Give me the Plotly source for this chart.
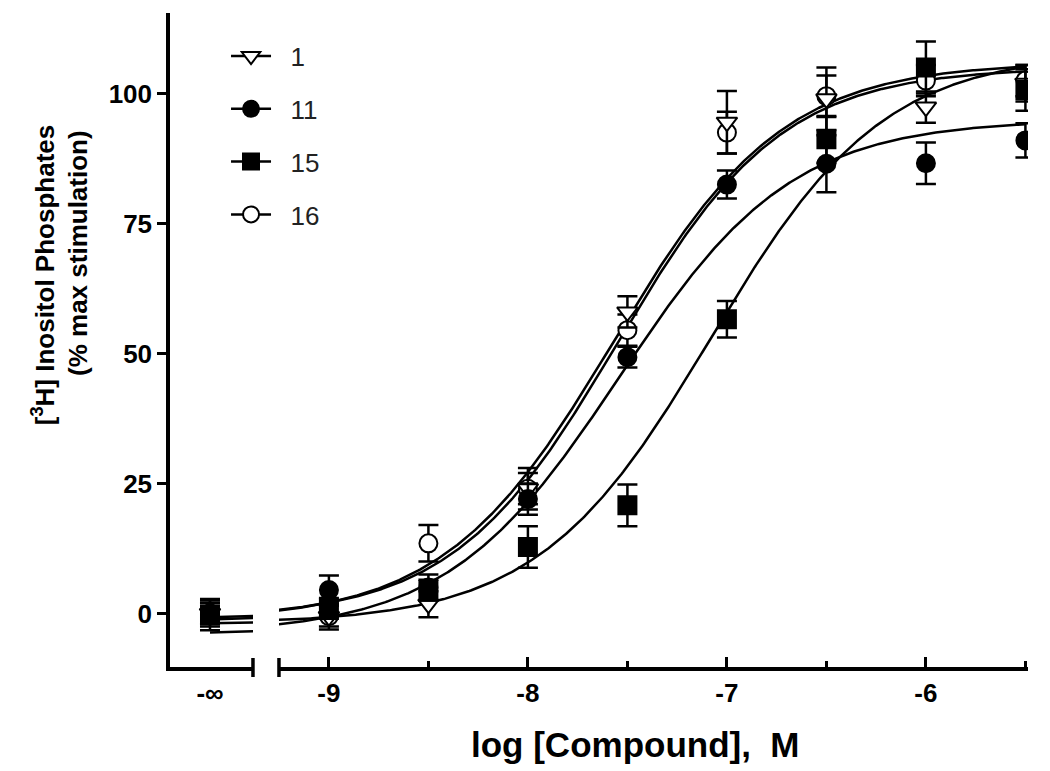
import numpy as np
import plotly.graph_objects as go

# ---------------- data ----------------
compounds = ["1", "11", "15", "16"]
basal_pos = -10.0                      # plotted position of the "-∞" (no compound) column
log_conc = [-9.0, -8.5, -8.0, -7.5, -7.0, -6.5, -6.0, -5.5]

# first value of each list = basal (-∞), then one per log_conc
resp_1 = [0.0, -0.6, 1.8, 24.0, 58.0, 94.5, 99.0, 97.4, 102.0]
err_1 = [2.5, 2.5, 2.5, 4.0, 3.0, 6.0, 6.0, 3.0, 3.5]
resp_11 = [0.0, 4.5, 5.0, 22.0, 49.3, 82.5, 86.5, 86.6, 91.0]
err_11 = [2.0, 2.8, 2.5, 3.0, 2.0, 2.7, 5.5, 4.0, 3.3]
resp_15 = [-0.2, 1.0, 4.5, 12.8, 20.8, 56.6, 91.2, 105.0, 100.7]
err_15 = [3.0, 2.0, 2.0, 4.0, 4.0, 3.5, 4.5, 5.0, 4.0]
resp_16 = [0.0, -0.5, 13.5, 24.0, 54.5, 92.5, 99.5, 102.5, 102.5]
err_16 = [2.0, 2.0, 3.5, 3.0, 3.0, 4.0, 4.0, 3.0, 3.0]

# sigmoidal dose-response fit parameters (bottom, top, logEC50, Hill slope)
fit_bottom = [-1.0, -4.0, -2.0, -1.5]
fit_top = [105.0, 95.0, 108.0, 106.0]
fit_logec50 = [-7.55, -7.54, -7.08, -7.57]
fit_hill = [1.05, 1.0, 1.0, 1.02]

x_ticks = [-9, -8, -7, -6]
x_minor = [-8.5, -7.5, -6.5, -5.5]
y_ticks = [0, 25, 50, 75, 100]

responses = [resp_1, resp_11, resp_15, resp_16]
errors = [err_1, err_11, err_15, err_16]
symbols = ["triangle-down", "circle", "square", "circle"]
fills = ["white", "black", "black", "white"]

FONT = "Liberation Sans, Arial, sans-serif"
NBSP = "\u00a0"

fig = go.Figure()

# fitted curves (drawn on both axis segments)
xc = np.linspace(basal_pos, log_conc[-1], 600)
for i in range(4):
    yc = fit_bottom[i] + (fit_top[i] - fit_bottom[i]) / (
        1 + 10 ** ((fit_logec50[i] - xc) * fit_hill[i]))
    for xa in ["x", "x2"]:
        fig.add_trace(go.Scatter(x=xc, y=yc, mode="lines", xaxis=xa, yaxis="y",
                                 line=dict(color="black", width=2.5),
                                 showlegend=False, hoverinfo="skip"))

# data points with error bars
for i in [3, 0, 1, 2]:
    r, e = responses[i], errors[i]
    mk = dict(symbol=symbols[i], size=18, color=fills[i],
              line=dict(color="black", width=2))
    eb = dict(color="black", thickness=2.5, width=10)
    fig.add_trace(go.Scatter(x=[basal_pos], y=[r[0]], xaxis="x", yaxis="y",
                             mode="markers", marker=mk,
                             error_y=dict(type="data", array=[e[0]], **eb),
                             showlegend=False))
    fig.add_trace(go.Scatter(x=log_conc, y=r[1:], xaxis="x2", yaxis="y",
                             mode="markers", marker=mk,
                             error_y=dict(type="data", array=e[1:], **eb),
                             showlegend=False))

# legend entries
for i in range(4):
    fig.add_trace(go.Scatter(x=[None], y=[None], mode="lines+markers", xaxis="x2",
                             name=NBSP * 2 + compounds[i], legendgroup=compounds[i],
                             line=dict(color="black", width=2.5),
                             marker=dict(symbol=symbols[i], size=17, color=fills[i],
                                         line=dict(color="black", width=2))))

axis_common = dict(showline=True, linecolor="black", linewidth=3.5, showgrid=False,
                   zeroline=False, tickfont=dict(family=FONT, size=26, color="black",
                                                 weight="bold"))

fig.update_layout(
    width=1050, height=771,
    margin=dict(l=162, r=30, t=5, b=112),
    paper_bgcolor="white", plot_bgcolor="white",
    showlegend=True,
    legend=dict(x=0.0653, y=0.970, xanchor="left", yanchor="top",
                font=dict(family=FONT, size=26, color="#222"),
                tracegroupgap=16, itemwidth=40, bgcolor="rgba(0,0,0,0)"),
    xaxis=dict(domain=[0, 0.0967], range=[-10.201, -9.784], anchor="y",
               tickvals=[basal_pos], ticktext=["-∞"], ticks="", **axis_common),
    xaxis2=dict(domain=[0.127, 1], range=[-9.251, -5.487], anchor="y",
                tickvals=x_ticks, ticktext=[str(v) for v in x_ticks],
                ticks="inside", ticklen=10, tickwidth=3, tickcolor="black",
                minor=dict(tickvals=x_minor, ticks="inside", ticklen=6,
                           tickwidth=3, tickcolor="black"),
                **axis_common),
    yaxis=dict(domain=[0, 1], range=[-10.29, 115.5], anchor="x",
               tickvals=y_ticks, ticks="outside", ticklen=9, tickwidth=3,
               tickcolor="black", **axis_common),
)

# axis break end bars
for ref, xpos in [("x domain", 1), ("x2 domain", 0)]:
    fig.add_shape(type="line", xref=ref, yref="paper", x0=xpos, x1=xpos,
                  y0=-0.0153, y1=0.0138, line=dict(color="black", width=3.5))

# axis titles
fig.add_annotation(text="log [Compound],  M", xref="paper", yref="paper",
                   x=0.543, y=-0.119, showarrow=False, xanchor="center", yanchor="middle",
                   font=dict(family=FONT, size=35, color="black", weight="bold"))
fig.add_annotation(text="[<sup>3</sup>H] Inositol Phosphates", xref="paper", yref="paper",
                   x=-0.148, y=0.599, showarrow=False, textangle=-90,
                   xanchor="center", yanchor="middle",
                   font=dict(family=FONT, size=26, color="black", weight="bold"))
fig.add_annotation(text="(% max stimulation)", xref="paper", yref="paper",
                   x=-0.1073, y=0.633, showarrow=False, textangle=-90,
                   xanchor="center", yanchor="middle",
                   font=dict(family=FONT, size=26, color="black", weight="bold"))

fig.write_html("out.html")
